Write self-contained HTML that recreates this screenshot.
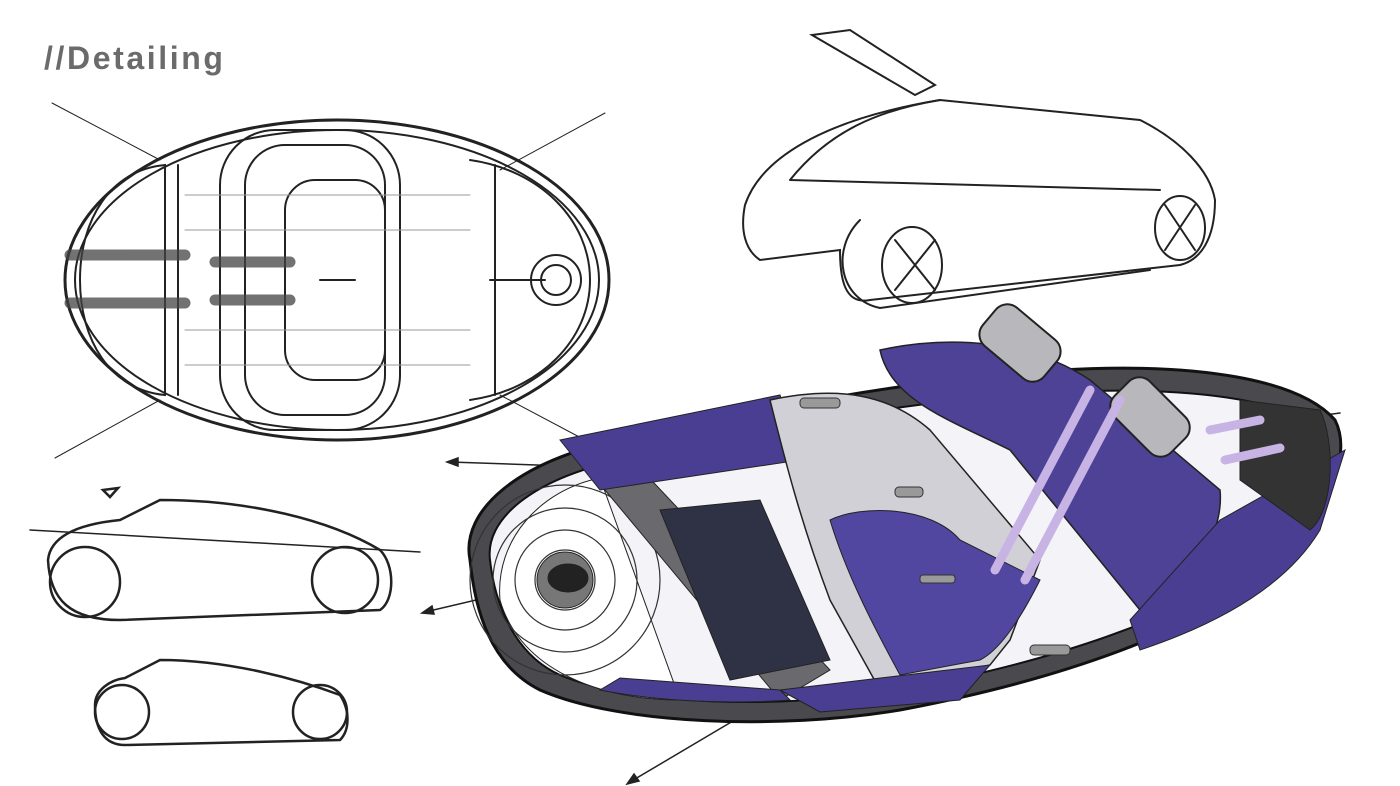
<!DOCTYPE html>
<html><head><meta charset="utf-8"><style>
html,body{margin:0;padding:0;background:#fff;width:1400px;height:786px;overflow:hidden}
.t{position:absolute;left:44px;top:40px;font:bold 32px "Liberation Sans",sans-serif;color:#6b6b6b;letter-spacing:2.6px}
</style></head><body>
<div class="t">//Detailing</div>
<svg width="1400" height="786" style="position:absolute;left:0;top:0" fill="none" stroke="#222" stroke-linecap="round">
<!-- top view -->
<g stroke-width="2">
<line x1="52" y1="103" x2="160" y2="160" stroke-width="1"/>
<line x1="605" y1="113" x2="500" y2="170" stroke-width="1"/>
<line x1="55" y1="458" x2="160" y2="400" stroke-width="1"/>
<line x1="585" y1="440" x2="500" y2="395" stroke-width="1"/>
<ellipse cx="337" cy="280" rx="272" ry="160" stroke-width="3"/>
<ellipse cx="337" cy="280" rx="262" ry="150"/>
<path d="M165 165 C110 170 80 220 80 280 C80 340 110 390 165 395 Z"/>
<path d="M178 165 L178 395"/>
<path d="M470 160 C540 170 590 220 590 280 C590 340 540 390 470 400"/>
<path d="M495 165 L495 395"/>
<rect x="220" y="130" width="180" height="300" rx="55"/>
<rect x="245" y="145" width="140" height="270" rx="40"/>
<rect x="285" y="180" width="100" height="200" rx="30"/>
<circle cx="556" cy="280" r="25"/><circle cx="556" cy="280" r="15"/>
<line x1="490" y1="280" x2="545" y2="280"/><line x1="320" y1="280" x2="355" y2="280"/>
</g>
<g stroke="#444" stroke-width="11" opacity=".75">
<line x1="70" y1="255" x2="185" y2="255"/><line x1="70" y1="303" x2="185" y2="303"/>
<line x1="215" y1="262" x2="290" y2="262"/><line x1="215" y1="300" x2="290" y2="300"/>
</g>
<g stroke-width="1" stroke="#999">
<line x1="185" y1="195" x2="470" y2="195"/><line x1="185" y1="230" x2="470" y2="230"/><line x1="185" y1="330" x2="470" y2="330"/><line x1="185" y1="365" x2="470" y2="365"/>
</g>
<!-- top right car -->
<g stroke-width="2">
<path d="M812 35 L850 30 L935 85 L915 95 Z"/>
<path d="M745 205 C760 160 820 120 940 100 L1140 120 C1180 140 1210 170 1215 200 C1215 240 1200 260 1180 265 L870 300 C845 305 840 280 840 250 L760 260 C745 250 740 230 745 205 Z"/>
<path d="M790 180 C830 130 880 110 940 100 M790 180 L1160 190"/>
<path d="M860 220 C830 250 840 300 880 308 L1150 270"/>
<ellipse cx="912" cy="265" rx="30" ry="38"/><ellipse cx="1180" cy="228" rx="25" ry="32"/>
<path d="M895 240 L935 290 M935 240 L895 290 M1165 205 L1195 250 M1195 205 L1165 250"/>
</g>
<!-- side views -->
<g stroke-width="2.5">
<path d="M48 560 C50 540 70 525 120 520 L160 500 C250 500 330 520 380 550 C395 565 395 600 380 610 L120 620 C70 620 50 600 48 560 Z"/>
<circle cx="85" cy="582" r="35"/><circle cx="345" cy="580" r="33"/>
<line x1="30" y1="530" x2="420" y2="552" stroke-width="1.5"/>
<path d="M95 705 C95 690 110 680 125 678 L160 660 C230 660 300 680 340 695 C350 710 350 730 340 740 L125 745 C105 745 95 730 95 705 Z"/>
<circle cx="122" cy="712" r="27"/><circle cx="320" cy="712" r="27"/>
<path d="M103 490 L118 488 L110 497 Z"/>
</g>
<!-- arrows -->
<g stroke-width="1.5" fill="#222">
<line x1="450" y1="462" x2="565" y2="466"/><path d="M447 462 L458 458 L458 466 Z"/>
<line x1="425" y1="612" x2="540" y2="585"/><path d="M422 613 L432 606 L434 614 Z"/>
<line x1="630" y1="782" x2="760" y2="705"/><path d="M627 784 L634 774 L639 781 Z"/>
<line x1="1250" y1="425" x2="1340" y2="413"/>
</g>
<!-- big render -->
<path d="M470 560 C460 510 520 460 620 440 C760 410 900 380 1060 370 C1200 362 1300 380 1335 420 C1355 460 1320 520 1270 570 C1200 630 1060 680 900 710 C780 730 620 725 540 690 C490 665 475 610 470 560 Z" fill="#4a4a4e" stroke="#111" stroke-width="3"/>
<path d="M490 560 C485 520 530 480 620 460 C760 430 900 400 1060 392 C1190 386 1290 400 1315 430 C1330 465 1300 515 1255 560 C1190 615 1060 660 900 690 C780 710 630 705 560 675 C515 655 495 605 490 560 Z" fill="#f4f4f8" stroke="#111" stroke-width="2"/>
<path d="M500 600 C495 540 540 490 600 478 L680 700 C600 700 520 670 500 600 Z" fill="#fff" stroke="#222"/>
<g stroke="#333" stroke-width="1.2"><circle cx="565" cy="580" r="30"/><circle cx="565" cy="580" r="50"/><circle cx="565" cy="580" r="72"/><circle cx="565" cy="580" r="95"/></g>
<circle cx="565" cy="580" r="28" fill="#777" stroke="#222"/><ellipse cx="568" cy="578" rx="20" ry="14" fill="#222"/>
<path d="M595 478 L640 468 L830 670 L780 700 Z" fill="#6a6a6e" stroke="#222"/>
<path d="M660 510 L760 500 L830 660 L730 680 Z" fill="#2f3244"/>
<path d="M560 440 L780 395 L800 460 L600 490 Z" fill="#4a3e92"/>
<path d="M600 690 C650 700 720 705 790 700 L780 690 L620 678 Z" fill="#4a3e92"/>
<path d="M880 350 C950 335 1030 340 1090 380 L1220 490 C1225 540 1180 600 1140 610 L1010 450 C950 420 890 400 880 350 Z" fill="#4d4296" stroke="#222" stroke-width="1.5"/>
<path d="M770 400 C840 385 890 395 930 430 L1040 560 L1010 640 L990 665 L880 690 L830 600 C800 520 785 460 770 400 Z" fill="#d0d0d6" stroke="#222" stroke-width="1.5"/>
<path d="M830 520 C860 505 930 505 960 540 L1040 580 C1020 620 1000 650 980 660 L900 675 C870 620 845 570 830 520 Z" fill="#5146a0" stroke="#222"/>
<path d="M1220 520 L1345 450 L1320 530 C1290 580 1230 620 1140 650 L1130 620 Z" fill="#4a3e92"/>
<path d="M1240 400 L1320 410 C1335 440 1335 510 1310 530 L1240 480 Z" fill="#333" stroke="#222"/>
<path d="M780 690 L990 665 L960 700 L820 712 Z" fill="#4a3e92"/>
<rect x="980" y="318" width="80" height="50" rx="15" transform="rotate(40 1020 343)" fill="#b8b8bc" stroke="#222" stroke-width="2"/>
<rect x="1110" y="392" width="80" height="50" rx="15" transform="rotate(45 1150 417)" fill="#b8b8bc" stroke="#222" stroke-width="2"/>
<g fill="#999" stroke="#333" stroke-width="1"><rect x="800" y="398" width="40" height="10" rx="4"/><rect x="895" y="487" width="28" height="10" rx="4"/><rect x="920" y="575" width="35" height="8" rx="3"/><rect x="1030" y="645" width="40" height="10" rx="4"/></g>
<g stroke="#c8b4e4" stroke-width="9"><line x1="1090" y1="390" x2="995" y2="570"/><line x1="1120" y1="400" x2="1025" y2="580"/><line x1="1210" y1="430" x2="1260" y2="420"/><line x1="1225" y1="460" x2="1280" y2="448"/></g>
</svg>
</body></html>
